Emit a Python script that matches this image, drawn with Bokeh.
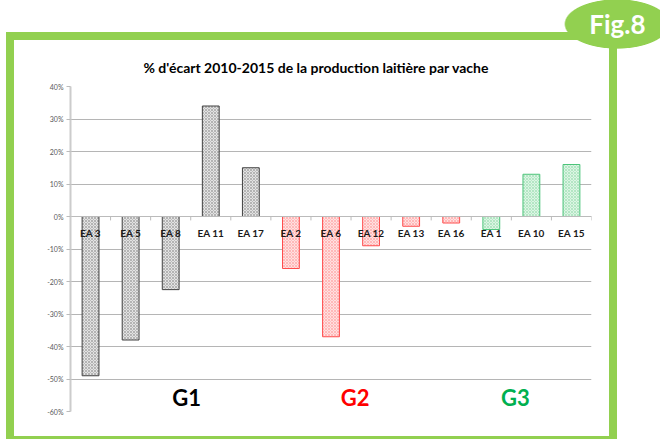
from bokeh.plotting import figure
from bokeh.models import (Range1d, FixedTicker, PrintfTickFormatter, Title,
                          ColumnDataSource)
from bokeh.core.properties import value
from bokeh.embed import file_html
from bokeh.resources import INLINE

# ---- data ----
categories = ["EA 3", "EA 5", "EA 8", "EA 11", "EA 17", "EA 2", "EA 6", "EA 12",
              "EA 13", "EA 16", "EA 1", "EA 10", "EA 15"]
values = [-49, -38, -22.5, 34, 15, -16, -37, -9, -3, -2, -4, 13, 16]
groups = ["G1"] * 5 + ["G2"] * 5 + ["G3"] * 3
group_labels = ["G1", "G2", "G3"]
group_label_x = [2.4, 6.6, 10.6]
group_label_y = [-55.7, -55.7, -55.7]
y_ticks = [-60, -50, -40, -30, -20, -10, 0, 10, 20, 30, 40]
title_text = "% d'écart 2010-2015 de la production laitière par vache"
badge_text = "Fig.8"

# ---- styles ----
GREEN_FRAME = "#92d050"
FONT = "Lato"
line_colors = {"G1": "#404040", "G2": "#ff4d4d", "G3": "#4cc47a"}
fill_colors = {"G1": "#e3e3e3", "G2": "#ffe0e0", "G3": "#dcf5e4"}
hatch_colors = {"G1": "#949494", "G2": "#ff9e9e", "G3": "#97dcae"}
label_colors = {"G1": "#000000", "G2": "#ff0000", "G3": "#00b050"}

W, H = 660, 439
L, R, T, B = 70, 69, 85, 28          # borders around the plotting frame


def bar_css(x, y, w, h):
    return (f"linear-gradient({GREEN_FRAME},{GREEN_FRAME}) "
            f"{x}px {y}px / {w}px {h}px no-repeat")


frame_css = ", ".join([
    f"radial-gradient(53px 25px at 617px 24px, {GREEN_FRAME} 97%, rgba(146,208,80,0) 100%) "
    f"0px 0px / {W}px {H}px no-repeat",
    bar_css(6, 32, 8, 410),      # left bar
    bar_css(6, 32, 575, 8),      # top bar
    bar_css(609, 30, 8, 412),    # right bar
    bar_css(6, 436, 611, 3),     # bottom bar
    "white",
])

p = figure(width=W, height=H, x_range=Range1d(-0.5, len(categories) - 0.5),
           y_range=Range1d(y_ticks[0], y_ticks[-1]), x_axis_type=None,
           output_backend="svg", toolbar_location=None,
           min_border_left=L, min_border_right=R, min_border_top=T,
           min_border_bottom=B, styles={"background": frame_css})
p.outline_line_color = None
p.background_fill_color = "white"
p.border_fill_color = None
p.xgrid.visible = False
p.ygrid.grid_line_color = "#b5b5b5"
p.ygrid.grid_line_width = 1

# outermost title slot: badge text; the chart title sits nearest the frame
p.title.text = badge_text
p.title.align = "right"
p.title.offset = -54
p.title.text_font = FONT
p.title.text_font_style = "bold"
p.title.text_font_size = "26px"
p.title.text_color = "white"
p.title.standoff = 11
p.add_layout(Title(text=title_text, align="left", offset=73, text_font=FONT,
                   text_font_style="bold", text_font_size="14px",
                   text_color="#000000", standoff=22), "above")

ax = p.yaxis[0]
ax.ticker = FixedTicker(ticks=y_ticks)
ax.formatter = PrintfTickFormatter(format="%d%%")
ax.major_label_text_font = FONT
ax.major_label_text_font_size = "7px"
ax.major_label_text_color = "#595959"
ax.axis_line_color = "#cccccc"
ax.axis_line_width = 2
ax.major_tick_line_color = "#bbbbbb"
ax.major_tick_out = 4
ax.major_tick_in = 0
ax.minor_tick_line_color = None
ax.major_label_standoff = 3

xs = list(range(len(categories)))

for g in group_labels:
    idx = [i for i, gg in enumerate(groups) if gg == g]
    src = ColumnDataSource(dict(x=[xs[i] for i in idx], v=[values[i] for i in idx]))
    p.vbar(x="x", top="v", bottom=0, width=0.42, source=src,
           fill_color=fill_colors[g], line_color=line_colors[g], line_width=1,
           hatch_pattern="diagonal_cross", hatch_color=hatch_colors[g],
           hatch_scale=3, hatch_weight=0.6)

# zero line and its ticks between categories
bounds = [i - 0.5 for i in range(len(categories) + 1)]
p.segment(x0=bounds, y0=[0] * len(bounds), x1=bounds, y1=[-1.2] * len(bounds),
          line_color="#bbbbbb", line_width=1)
p.segment(x0=[bounds[0]], y0=[0], x1=[bounds[-1]], y1=[0], line_color="#bbbbbb",
          line_width=1)

# category labels
p.text(x=xs, y=[0] * len(xs), text=categories, text_align="center",
       text_baseline="middle", y_offset=16, text_font=value(FONT),
       text_font_style="bold", text_font_size="10px", text_color="#1a1a1a")

# group labels
p.text(x=group_label_x, y=group_label_y, text=group_labels, text_align="center",
       text_baseline="middle", text_font=value(FONT), text_font_style="bold",
       text_font_size="22px", text_color=[label_colors[g] for g in group_labels])

open("out.html", "w").write(file_html(p, INLINE))
